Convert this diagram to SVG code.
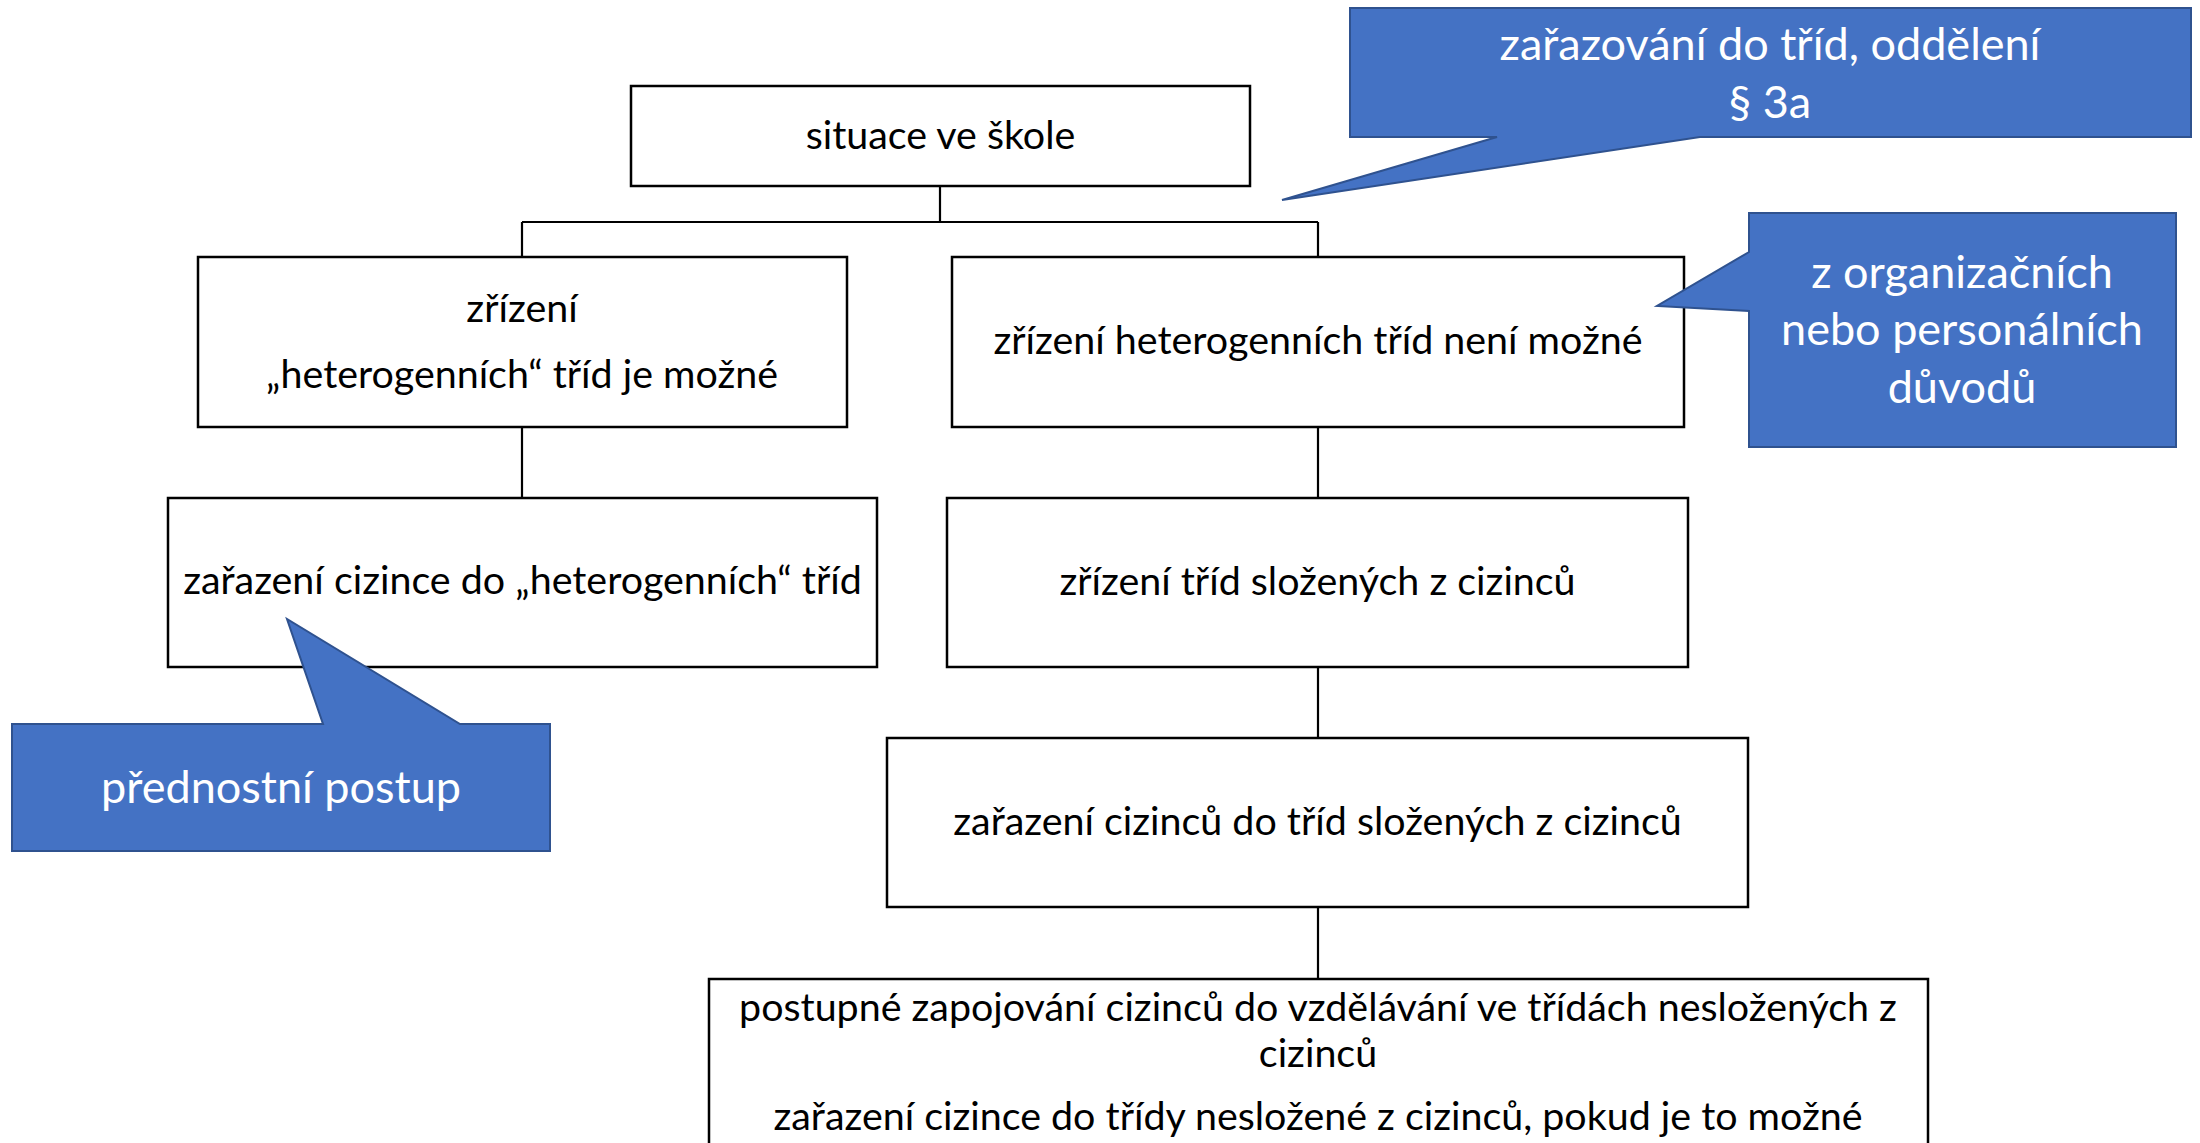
<svg xmlns="http://www.w3.org/2000/svg" width="2200" height="1143" viewBox="0 0 2200 1143">
<style>
.box{fill:#fff;stroke:#000;stroke-width:2.5}
.conn{fill:none;stroke:#000;stroke-width:2.2}
.call{fill:#4472C4;stroke:#2F528F;stroke-width:2}
.t{font-family:Lato,"Liberation Sans",sans-serif;font-size:39.4px;fill:#000;text-anchor:middle}
.w{font-family:Lato,"Liberation Sans",sans-serif;font-size:45px;fill:#fff;text-anchor:middle}
</style>
<rect width="2200" height="1143" fill="#fff"/>
<g id="connectors">
<path class="conn" d="M940,186 V222 M522,222 H1318 M522,222 V257 M1318,222 V257 M522,427 V498 M1318,427 V498 M1318,667 V738 M1318,907 V979"/>
</g>
<g id="n-situace">
<rect class="box" x="631" y="86" width="619" height="100"/>
<text class="t" x="940.5" y="149">situace ve škole</text>
</g>
<g id="n-het-mozne">
<rect class="box" x="198" y="257" width="649" height="170"/>
<text class="t" x="522" y="322">zřízení</text>
<text class="t" x="522" y="388">„heterogenních“ tříd je možné</text>
</g>
<g id="n-het-nemozne">
<rect class="box" x="952" y="257" width="732" height="170"/>
<text class="t" x="1318" y="354">zřízení heterogenních tříd není možné</text>
</g>
<g id="n-zarazeni-het">
<rect class="box" x="168" y="498" width="709" height="169"/>
<text class="t" x="522.5" y="594">zařazení cizince do „heterogenních“ tříd</text>
</g>
<g id="n-zrizeni-slozenych">
<rect class="box" x="947" y="498" width="741" height="169"/>
<text class="t" x="1317.5" y="595">zřízení tříd složených z cizinců</text>
</g>
<g id="n-zarazeni-slozenych">
<rect class="box" x="887" y="738" width="861" height="169"/>
<text class="t" x="1317.5" y="835">zařazení cizinců do tříd složených z cizinců</text>
</g>
<g id="n-postupne">
<rect class="box" x="709" y="979" width="1219" height="200"/>
<text class="t" x="1318" y="1021">postupné zapojování cizinců do vzdělávání ve třídách nesložených z</text>
<text class="t" x="1318" y="1067">cizinců</text>
<text class="t" x="1318" y="1130">zařazení cizince do třídy nesložené z cizinců, pokud je to možné</text>
</g>
<g id="c-zarazovani">
<path class="call" d="M1350,8 H2191 V137 H1700 L1282,200 L1497,137 H1350 Z"/>
<text class="w" x="1770" y="60">zařazování do tříd, oddělení</text>
<text class="w" x="1770" y="118">§ 3a</text>
</g>
<g id="c-duvody">
<path class="call" d="M1749,213 H2176 V447 H1749 V311 L1657,306 L1749,252 Z"/>
<text class="w" x="1962" y="288">z organizačních</text>
<text class="w" x="1962" y="345">nebo personálních</text>
<text class="w" x="1962" y="403">důvodů</text>
</g>
<g id="c-prednostni">
<path class="call" d="M12,724 H323 L287,619 L460,724 H550 V851 H12 Z"/>
<text class="w" x="281" y="803">přednostní postup</text>
</g>
</svg>
